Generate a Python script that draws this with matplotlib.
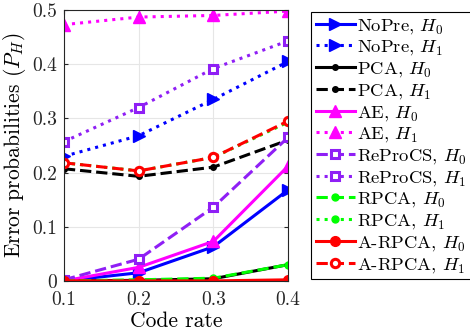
import matplotlib
matplotlib.use("Agg")
import matplotlib.pyplot as plt

plt.rcParams["font.family"] = "serif"
plt.rcParams["font.serif"] = ["cmr10"]
plt.rcParams["mathtext.fontset"] = "cm"
plt.rcParams["axes.formatter.use_mathtext"] = True

code_rate = [0.1, 0.2, 0.3, 0.4]

nopre_h0 = [0.0, 0.015, 0.063, 0.168]
nopre_h1 = [0.230, 0.268, 0.335, 0.405]
pca_h0 = [0.0, 0.001, 0.004, 0.030]
pca_h1 = [0.207, 0.193, 0.210, 0.260]
ae_h0 = [0.0, 0.025, 0.073, 0.212]
ae_h1 = [0.473, 0.487, 0.490, 0.498]
reprocs_h0 = [0.002, 0.040, 0.136, 0.265]
reprocs_h1 = [0.257, 0.320, 0.392, 0.443]
rpca_h0 = [0.0, 0.002, 0.005, 0.030]
rpca_h1 = [0.218, 0.203, 0.228, 0.293]
arpca_h0 = [0.0, 0.0, 0.0, 0.002]
arpca_h1 = [0.218, 0.203, 0.228, 0.295]

purple = (0.56, 0.12, 0.96)

fig = plt.figure(figsize=(4.7, 3.34), dpi=100)
ax = fig.add_axes([0.136, 0.159, 0.477, 0.811])

lw = 2.2
ax.plot(code_rate, nopre_h0, "-", color="blue", lw=lw, marker=">", ms=8, label=r"NoPre, $H_0$")
ax.plot(code_rate, nopre_h1, ":", color="blue", lw=lw, marker=">", ms=8, label=r"NoPre, $H_1$")
ax.plot(code_rate, pca_h0, "-", color="black", lw=lw, marker=".", ms=8, label=r"PCA, $H_0$")
ax.plot(code_rate, pca_h1, "--", color="black", lw=lw, marker=".", ms=8, label=r"PCA, $H_1$")
ax.plot(code_rate, ae_h0, "-", color="magenta", lw=lw, marker="^", ms=8, label=r"AE, $H_0$")
ax.plot(code_rate, ae_h1, ":", color="magenta", lw=lw, marker="^", ms=8, label=r"AE, $H_1$")
ax.plot(code_rate, reprocs_h0, "--", color=purple, lw=lw, marker="s", ms=6,
        mfc="white", mew=2.2, label=r"ReProCS, $H_0$")
ax.plot(code_rate, reprocs_h1, ":", color=purple, lw=lw, marker="s", ms=6,
        mfc="white", mew=2.2, label=r"ReProCS, $H_1$")
ax.plot(code_rate, rpca_h0, "--", color=(0, 1, 0), lw=lw, marker=".", ms=10, label=r"RPCA, $H_0$")
ax.plot(code_rate, rpca_h1, ":", color=(0, 1, 0), lw=lw, marker=".", ms=10, label=r"RPCA, $H_1$")
ax.plot(code_rate, arpca_h0, "-", color="red", lw=lw, marker="o", ms=7, label=r"A-RPCA, $H_0$")
ax.plot(code_rate, arpca_h1, "--", color="red", lw=lw, marker="o", ms=6,
        mfc="white", mew=2.2, label=r"A-RPCA, $H_1$")

ax.set_xlim(0.1, 0.4)
ax.set_ylim(0, 0.5)
ax.set_xticks(code_rate)
ax.set_xticklabels(["0.1", "0.2", "0.3", "0.4"])
ax.set_yticks([0, 0.1, 0.2, 0.3, 0.4, 0.5])
ax.set_yticklabels(["0", "0.1", "0.2", "0.3", "0.4", "0.5"])
ax.tick_params(direction="in", labelsize=14, length=3, top=True, right=True, colors="0.15")
ax.tick_params(axis="x", pad=7)
ax.tick_params(axis="y", pad=5)
ax.grid(True, color="0.9", lw=0.8)
ax.set_axisbelow(True)
for s in ax.spines.values():
    s.set_color("0.15")
    s.set_linewidth(0.8)

ax.set_xlabel("Code rate", fontsize=15.5, labelpad=2)
ax.set_ylabel(r"Error probabilities ($P_H$)", fontsize=15.5, labelpad=3)

leg = fig.legend(loc="upper left", bbox_to_anchor=(0.662, 0.964), fontsize=13.4,
                 fancybox=False, framealpha=1, edgecolor="black",
                 handlelength=2.1, handletextpad=0.1, labelspacing=0.15,
                 borderpad=0.25, borderaxespad=0)
leg.get_frame().set_linewidth(0.8)

fig.savefig("out.png", dpi=100)
